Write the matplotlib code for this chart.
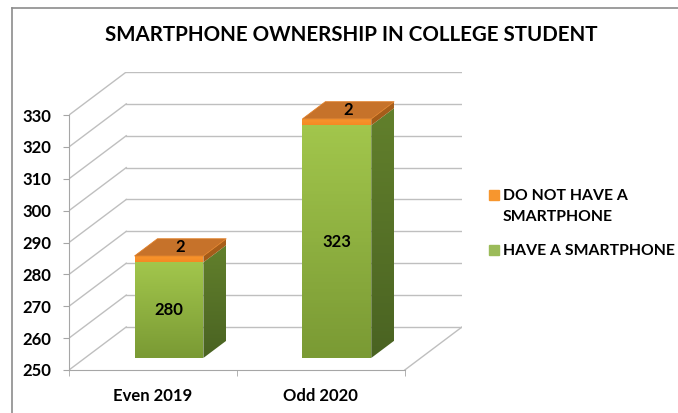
import numpy as np
import matplotlib
matplotlib.use('Agg')
import matplotlib.pyplot as plt
from matplotlib.patches import Polygon, Rectangle
from matplotlib.lines import Line2D

plt.rcParams['font.family'] = ['Lato', 'DejaVu Sans']
plt.rcParams['font.weight'] = 'bold'

categories = ['Even 2019', 'Odd 2020']
have_phone = [280, 323]
no_phone = [2, 2]
series_names = ['DO NOT HAVE A\nSMARTPHONE', 'HAVE A SMARTPHONE']
yticks = list(range(250, 331, 10))

W, H = 678, 413
fig = plt.figure(figsize=(W / 100, H / 100), dpi=100)

def fx(px):
    return px / W

def fy(py):
    return 1 - py / H

# axes = front plane of the fake 3d box (pixels 69..462 x 72..370)
ax = fig.add_axes([fx(69), fy(370), fx(462) - fx(69), fy(72) - fy(370)])
ymin, ymax = 250, 330
kx, ky = 0.341, 13.5          # depth offset in data units (x, y)
ax.set_xlim(0, len(categories) + kx)
ax.set_ylim(ymin, ymax + ky)

grid_c = '#bfbfbf'
for v in yticks:
    ax.plot([0, kx], [v, v + ky], color=grid_c, lw=1, zorder=1)
    ax.plot([kx, len(categories) + kx], [v + ky, v + ky], color=grid_c, lw=1, zorder=1)
# floor right edge
ax.plot([len(categories), len(categories) + kx], [ymin, ymin + ky], color=grid_c, lw=1, zorder=1)

for s in ['top', 'right']:
    ax.spines[s].set_visible(False)
ax.spines['left'].set_bounds(ymin, ymax)
ax.spines['bottom'].set_bounds(0, len(categories))
for s in ['left', 'bottom']:
    ax.spines[s].set_color('#a6a6a6')
ax.patch.set_visible(False)

ax.set_yticks(yticks)
ax.set_yticklabels([str(v) for v in yticks], fontsize=12, fontweight='bold')
ax.tick_params(axis='y', length=4, color='#a6a6a6', pad=9)
ax.set_xticks([i + 0.5 for i in range(len(categories))])
ax.set_xticklabels(categories, fontsize=12, fontweight='bold')
ax.set_xticks(range(len(categories) + 1), minor=True)
ax.tick_params(axis='x', which='major', length=0, pad=13)
ax.tick_params(axis='x', which='minor', length=4, color='#a6a6a6')


def grad_fill(poly, c_top, c_bot, z):
    ax.add_patch(poly)
    xs, ys = poly.get_xy()[:, 0], poly.get_xy()[:, 1]
    cmap = matplotlib.colors.LinearSegmentedColormap.from_list('g', [c_bot, c_top])
    im = ax.imshow(np.linspace(0, 1, 64).reshape(-1, 1), cmap=cmap, origin='lower',
                   extent=[xs.min(), xs.max(), ys.min(), ys.max()], aspect='auto', zorder=z)
    im.set_clip_path(poly)


def proj(x, v, z):
    return (x + z * kx, v + z * ky)


z0, z1 = 0.28, 0.68
hw = 0.205
for i, cat in enumerate(categories):
    c = i + 0.5
    segs = [(ymin, have_phone[i], ('#a2c64c', '#7a9a34'), ('#62802c', '#4a6322')),
            (have_phone[i], have_phone[i] + no_phone[i], ('#f7962e', '#f58a24'),
             ('#a9601c', '#a25a18'))]
    for k, (lo, hi, front, side) in enumerate(segs):
        zb = 3 + 0.1 * k
        # shadowed side face
        side_pts = [proj(c + hw, lo, z0), proj(c + hw, lo, z1), proj(c + hw, hi, z1), proj(c + hw, hi, z0)]
        grad_fill(Polygon(side_pts, closed=True, fc='none', ec='none'), side[0], side[1], zb)
        # front face
        fb = ax.bar(c + z0 * kx, hi - lo, bottom=lo + z0 * ky, width=2 * hw,
                    color='none', zorder=zb)[0]
        x0, y0 = fb.get_x(), fb.get_y()
        fr = Polygon([(x0, y0), (x0 + fb.get_width(), y0),
                      (x0 + fb.get_width(), y0 + fb.get_height()), (x0, y0 + fb.get_height())],
                     closed=True, fc='none', ec='none')
        grad_fill(fr, front[0], front[1], zb)
    # top face
    tv = have_phone[i] + no_phone[i]
    top_pts = [proj(c - hw, tv, z0), proj(c + hw, tv, z0), proj(c + hw, tv, z1), proj(c - hw, tv, z1)]
    ax.add_patch(Polygon(top_pts, closed=True, fc='#c6722a', ec='#e07f28', lw=0.6, zorder=4))
    # labels
    lx, ly = proj(c, (ymin + have_phone[i]) / 2, z0)
    ax.text(lx, ly, str(have_phone[i]), ha='center', va='center', fontsize=12, fontweight='bold', zorder=6)
    tx, ty = proj(c, tv, (z0 + z1) / 2)
    ax.text(tx, ty, str(no_phone[i]), ha='center', va='center', fontsize=12, fontweight='bold', zorder=6)

fig.text(fx(351), fy(35), 'SMARTPHONE OWNERSHIP IN COLLEGE STUDENT', ha='center', va='center',
         fontsize=14.8, fontweight='bold')

# legend
leg_colors = ['#f7962e', '#9bbb59']
leg_y = [195, 250]
for col, lab, py in zip(leg_colors, series_names, leg_y):
    fig.add_artist(Rectangle((fx(489), fy(py + 5)), fx(10), 10 / H, color=col, transform=fig.transFigure))
    fig.text(fx(503), fy(py - 6), lab, ha='left', va='top', fontsize=11.3, fontweight='bold',
             linespacing=1.65)

# chart border
fig.add_artist(Line2D([fx(12), 1], [fy(8), fy(8)], color='#8c8c8c', lw=1.2, transform=fig.transFigure))
fig.add_artist(Line2D([fx(12), fx(12)], [fy(8), 0], color='#8c8c8c', lw=1.2, transform=fig.transFigure))

fig.savefig('out.png', dpi=100)
